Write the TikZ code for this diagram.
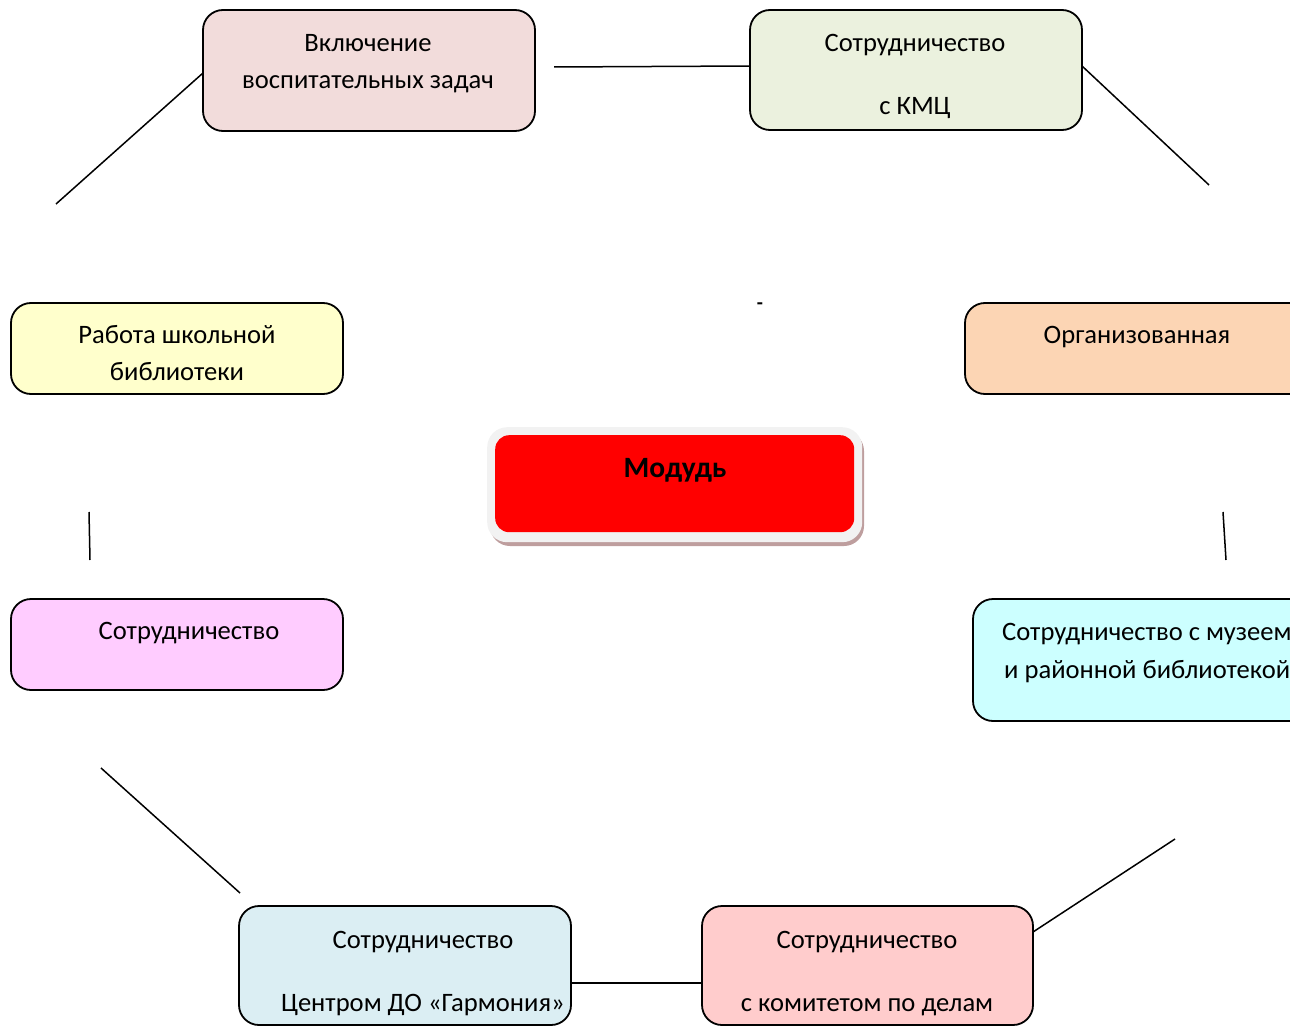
\documentclass[tikz,border=0pt]{standalone}
\usepackage{fontspec}
\setmainfont{Carlito}
\usetikzlibrary{calc}
\definecolor{cA}{HTML}{F2DCDB}
\definecolor{cB}{HTML}{EBF1DE}
\definecolor{cC}{HTML}{FFFFCC}
\definecolor{cD}{HTML}{FCD5B4}
\definecolor{cE}{HTML}{FFCCFF}
\definecolor{cF}{HTML}{CCFFFF}
\definecolor{cG}{HTML}{DBEEF3}
\definecolor{cH}{HTML}{FFCCCC}
\definecolor{shad}{HTML}{BE9E9E}
\definecolor{outerg}{HTML}{F2F2F2}
\begin{document}
\begin{tikzpicture}[x=1pt,y=-1pt,
  box/.style={draw=black, line width=1.8pt, rounded corners=20pt, anchor=north west, inner sep=0pt, outer sep=0pt},
  lbl/.style={font=\fontsize{26.6}{30}\selectfont, inner sep=0pt, anchor=base},
  lblw/.style={font=\fontsize{26.6}{30}\selectfont, inner sep=0pt, anchor=base west},
  conn/.style={line width=1.5pt}]
\useasboundingbox (0,0) rectangle (1290,1027);
\clip (0,0) rectangle (1290,1027);
% boxes
\node[box, fill=cA, minimum width=332pt, minimum height=121pt] (A) at (203,10) {};
\node[box, fill=cB, minimum width=332pt, minimum height=120pt] (B) at (750,10) {};
\node[box, fill=cC, minimum width=332pt, minimum height=91pt] (C) at (11,303) {};
\node[box, fill=cD, minimum width=344pt, minimum height=91pt] (D) at (965,303) {};
\node[box, fill=cE, minimum width=332pt, minimum height=91pt] (E) at (11,599) {};
\node[box, fill=cF, minimum width=340pt, minimum height=122pt] (F) at (973,599) {};
\node[box, fill=cG, minimum width=332pt, minimum height=119pt] (G) at (239,906) {};
\node[box, fill=cH, minimum width=331pt, minimum height=119pt] (H) at (702,906) {};
% labels
\node[lbl] (A1) at (368,52) {Включение};
\node[lbl] (A2) at (368,89) {воспитательных задач};
\node[lbl] (B1) at (915,52) {Сотрудничество};
\node[lbl] (B2) at (915,115) {с КМЦ};
\node[lbl] (C1) at (177,343) {Работа школьной};
\node[lbl] (C2) at (177,380) {библиотеки};
\node[lbl] (D1) at (1137,343) {Организованная};
\node[lbl] (E1) at (189,639) {Сотрудничество};
\node[lblw] (F1) at (1002,640) {Сотрудничество с музеем};
\node[lblw] (F2) at (1004,678) {и районной библиотекой};
\node[lbl] (G1) at (423,948) {Сотрудничество};
\node[lbl] (G2) at (423,1011) {Центром ДО «Гармония»};
\node[lbl] (H1) at (867,948) {Сотрудничество};
\node[lbl] (H2) at (867,1011) {с комитетом по делам};
% centre
\fill[shad, rounded corners=20pt] (490,431) rectangle (864,546);
\node[fill=outerg, rounded corners=20pt, anchor=north west, inner sep=0pt, minimum width=375pt, minimum height=115pt] (M0) at (487,427) {};
\node[fill=red, rounded corners=14pt, anchor=north west, inner sep=0pt, minimum width=359pt, minimum height=97pt] (M) at (495,435) {};
\node[font=\fontsize{29.5}{34}\selectfont\bfseries, inner sep=0pt, anchor=base] (M1) at (675,477) {Модудь};
\node[font=\fontsize{20}{24}\selectfont\bfseries, inner sep=0pt] (dash) at (760,306) {-};
% connectors
\coordinate (p1) at (56,204);
\coordinate (p2) at (554,67);
\coordinate (p3) at (1209,185);
\coordinate (p4) at (89,512);
\coordinate (p5) at (90,560);
\coordinate (p6) at (1223,512);
\coordinate (p7) at (1226,560);
\coordinate (p8) at (101,768);
\coordinate (p9) at (240,893);
\coordinate (p10) at (1175,839);
\draw[conn] ($(A.north west)+(0,63)$) -- (p1);
\draw[conn] (p2) -- ($(B.north west)+(0,56)$);
\draw[conn] ($(B.north east)+(0,56)$) -- (p3);
\draw[conn] (p4) -- (p5);
\draw[conn] (p6) -- (p7);
\draw[conn] (p8) -- (p9);
\draw[conn] ($(G.north east)+(0,77)$) -- ($(H.north west)+(0,77)$);
\draw[conn] ($(H.north east)+(0,26)$) -- (p10);
\end{tikzpicture}
\end{document}
